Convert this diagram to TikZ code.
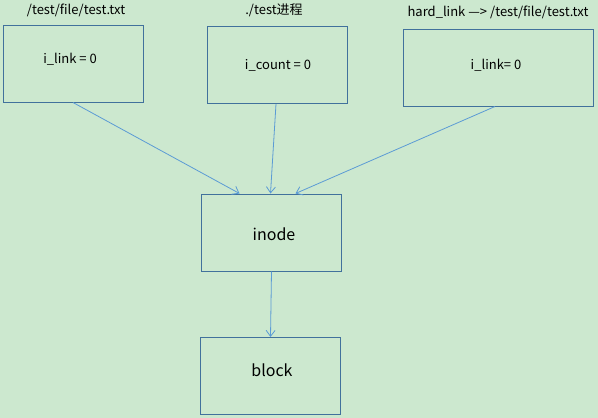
\documentclass[tikz,border=0pt]{standalone}
\usepackage{fontspec}
\setmainfont{Noto Sans CJK SC}
\usetikzlibrary{arrows.meta}
\definecolor{bggreen}{HTML}{CCE8CF}
\definecolor{boxblue}{HTML}{41719C}
\definecolor{arrowblue}{HTML}{5B9BD5}

\begin{document}
\begin{tikzpicture}[x=1pt,y=-1pt,
		box/.style={draw=boxblue,line width=1pt,minimum width=140pt,minimum height=77pt,inner sep=0pt},
		txt/.style={font=\fontsize{13}{15}\selectfont,inner sep=0pt},
		bigtxt/.style={font=\fontsize{16}{19}\selectfont,inner sep=0pt},
		link/.style={draw=arrowblue,line width=0.8pt,-{Straight Barb[length=6pt,width=9pt]}}]
		\fill[bggreen] (0,0) rectangle (598,418);
		\useasboundingbox (0,0) rectangle (598,418);
		% top row
		\node[box] (file) at (73,63.5) {};
		\node[txt] (filetxt) at (70,59) {i\_link = 0};
		\node[txt] (filename) at (76,10) {/test/file/test.txt};
		\node[box] (proc) at (277,65) {};
		\node[txt] (proctxt) at (278,65) {i\_count = 0};
		\node[txt] (procname) at (274,10) {./test进程};
		\node[box,minimum width=190pt] (hard) at (498,67.5) {};
		\node[txt] (hardtxt) at (496,65) {i\_link= 0};
		\node[txt] (hardname) at (498,12) {hard\_link —> /test/file/test.txt};
		% inode and block
		\node[box] (inode) at (271.5,232.5) {};
		\node[bigtxt] (inodetxt) at (274,234) {inode};
		\node[box] (block) at (270.5,376) {};
		\node[bigtxt] (blocktxt) at (272,370) {block};
		% links
		\draw[link] (file.south) -- ([xshift=-32pt]inode.north);
		\draw[link] ([xshift=-1pt]proc.south) -- ([xshift=-1pt]inode.north);
		\draw[link] ([xshift=-3pt]hard.south) -- ([xshift=24pt]inode.north);
		\draw[link] (inode.south) -- (block.north);
	\end{tikzpicture}
\end{document}
